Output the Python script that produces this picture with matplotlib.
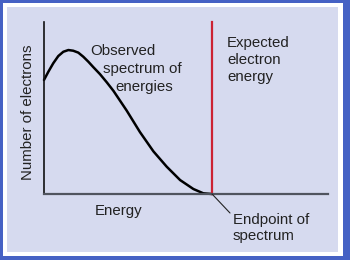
import matplotlib
matplotlib.use("Agg")
import matplotlib.pyplot as plt
from matplotlib.patches import Rectangle

plt.rcParams['font.family'] = ['Liberation Sans', 'DejaVu Sans']

# energy scaled so that the endpoint is 1.0, electron count scaled to 0..1
energy = [0.0, 0.026, 0.055, 0.085, 0.115, 0.145, 0.174, 0.204, 0.234, 0.264,
          0.293, 0.333, 0.373, 0.413, 0.492, 0.571, 0.651, 0.730, 0.810, 0.889,
          0.948, 1.0]
counts = [0.663, 0.711, 0.760, 0.802, 0.827, 0.837, 0.833, 0.822, 0.798, 0.769,
          0.738, 0.697, 0.650, 0.600, 0.485, 0.360, 0.248, 0.159, 0.081, 0.029,
          0.004, 0.0]
endpoint = 1.0
expected_top = 1.0

W, H = 350, 260


def fx(px):
    return px / W


def fy(py):
    return 1 - py / H


fig = plt.figure(figsize=(3.5, 2.6), dpi=100)
fig.patch.set_facecolor('#4561c4')
fig.patches.append(Rectangle((fx(3), fy(256)), fx(340), 253 / H, facecolor='white',
                             edgecolor='none', transform=fig.transFigure, zorder=-2))
fig.patches.append(Rectangle((fx(7), fy(252)), fx(331), 245 / H, facecolor='#d6daef',
                             edgecolor='none', transform=fig.transFigure, zorder=-1))

ax = fig.add_axes([fx(44), fy(194), fx(284), 172 / H])
ax.set_facecolor('none')
ax.set_xlim(0, 1.69)
ax.set_ylim(0, 1.0)
for s in ['top', 'right']:
    ax.spines[s].set_visible(False)
ax.spines['left'].set_color('#111111')
ax.spines['bottom'].set_color('#50545e')
ax.spines['left'].set_linewidth(1.2)
ax.spines['bottom'].set_linewidth(1.6)
ax.set_xticks([])
ax.set_yticks([])

ax.plot(energy, counts, color='black', lw=1.8, solid_joinstyle='round',
        solid_capstyle='round', clip_on=False)
ax.plot([endpoint, endpoint], [0, expected_top], color='#cc2233', lw=1.6, clip_on=False)

fs = 10.8
fig.text(fx(119), fy(215), 'Energy', fontsize=fs, ha='center', va='baseline', color='#222222')
fig.text(fx(28), fy(112), 'Number of electrons', fontsize=fs, rotation=90,
         ha='center', va='center', color='#222222')

fig.text(fx(90), fy(55), 'Observed', fontsize=fs, va='baseline', color='#222222')
fig.text(fx(103), fy(73), 'spectrum of', fontsize=fs, va='baseline', color='#222222')
fig.text(fx(115), fy(91), 'energies', fontsize=fs, va='baseline', color='#222222')

fig.text(fx(227), fy(36), 'Expected\nelectron\nenergy', fontsize=fs, va='top',
         linespacing=1.25, color='#222222')
fig.text(fx(233), fy(213), 'Endpoint of\nspectrum', fontsize=fs, va='top',
         linespacing=1.15, color='#222222')

ax.annotate('', xy=(endpoint, 0), xycoords='data',
            xytext=(230, H - 213), textcoords='figure pixels',
            arrowprops=dict(arrowstyle='-', color='#222222', lw=0.8,
                            shrinkA=0, shrinkB=0), annotation_clip=False)

fig.savefig('out.png', dpi=100, facecolor=fig.get_facecolor())
